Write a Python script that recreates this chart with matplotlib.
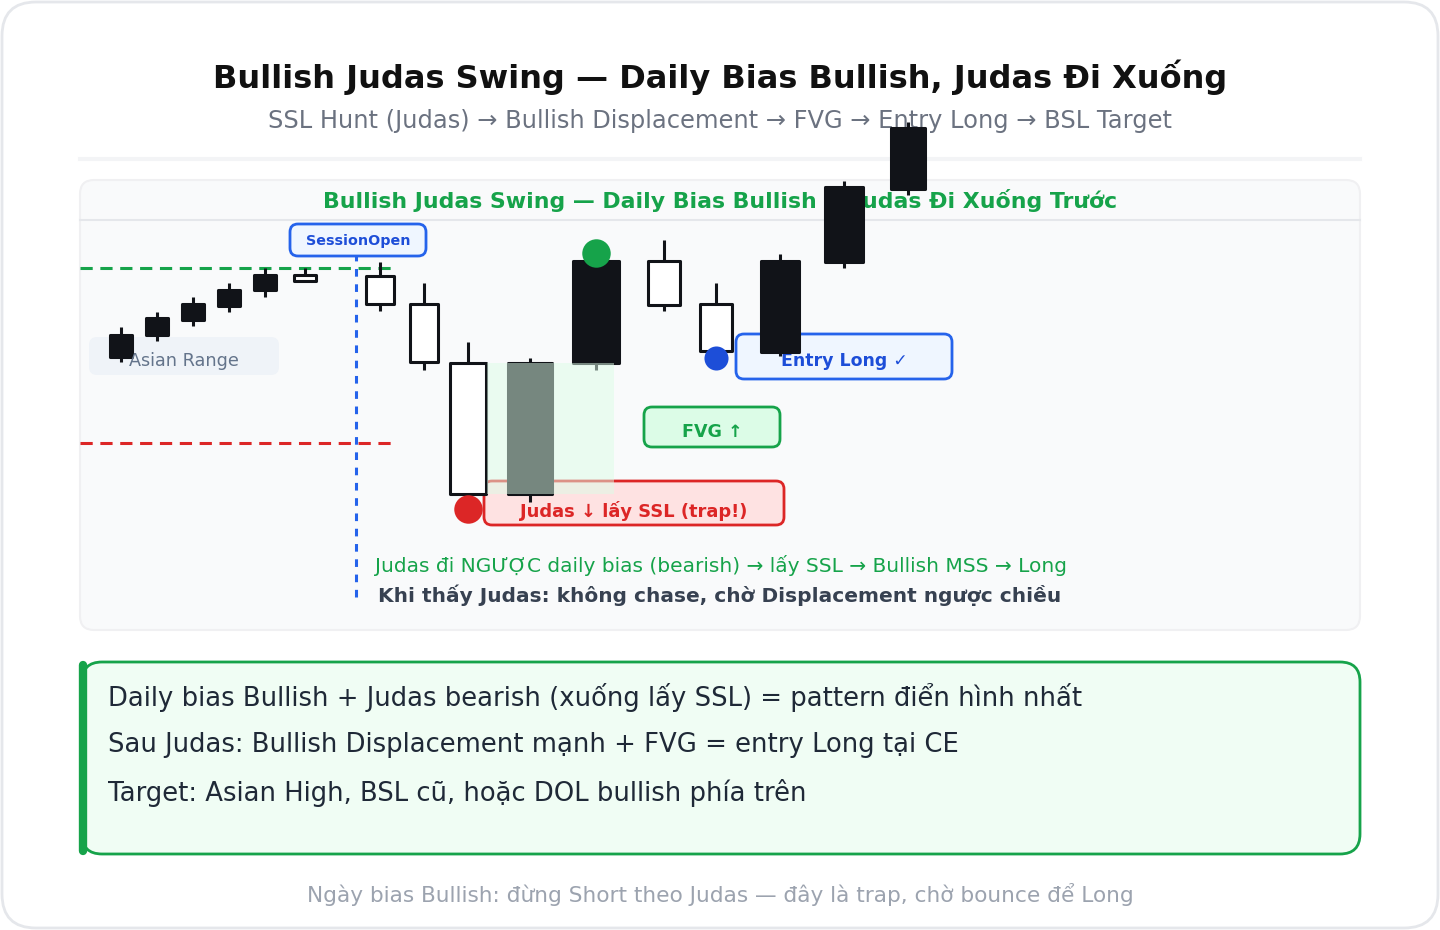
import matplotlib
matplotlib.use("Agg")
import matplotlib.pyplot as plt
from matplotlib.patches import FancyBboxPatch, Rectangle
from matplotlib.transforms import Affine2D

# ---- data (gia, don vi tuy y) ----
times = [4.1, 7.7, 11.3, 14.9, 18.5, 22.5, 30.0, 34.4, 38.8, 45.0, 51.6, 58.4, 63.6, 70.0, 76.4, 82.8]
opens = [1.0886, 1.0908, 1.0923, 1.0937, 1.0953, 1.0968, 1.0967, 1.0939,
         1.0880, 1.0749, 1.0880, 1.0982, 1.0939, 1.0891, 1.0981, 1.1054]
highs = [1.0916, 1.0931, 1.0946, 1.0960, 1.0975, 1.0975, 1.0981, 1.0960,
         1.0901, 1.0885, 1.0990, 1.1003, 1.0960, 1.0989, 1.1062, 1.1121]
lows = [1.0881, 1.0902, 1.0917, 1.0931, 1.0946, 1.0962, 1.0932, 1.0873,
        1.0749, 1.0741, 1.0873, 1.0932, 1.0892, 1.0887, 1.0975, 1.1048]
closes = [1.0908, 1.0925, 1.0939, 1.0953, 1.0968, 1.0962, 1.0939, 1.0881,
          1.0749, 1.0880, 1.0982, 1.0938, 1.0892, 1.0982, 1.1056, 1.1115]

session_open = 27.6
asian_high = 1.0975
ssl_level = 1.0800
fvg_time = [40.7, 53.4]
fvg_price = [1.0749, 1.0880]

# diem danh dau: (time, price)
judas_low = (38.8, 1.0734)
displ_high = (51.6, 1.0990)
entry_pt = (63.6, 1.0885)

# style
body_w = [2.2, 2.2, 2.2, 2.2, 2.2, 2.2, 2.8, 2.8, 3.6, 4.4, 4.6, 3.2, 3.2, 3.8, 3.8, 3.4]

GREEN = "#16a34a"
BLUE = "#2563eb"
BLUE_T = "#1d4ed8"
RED = "#dc2626"
INK = "#111318"

W, H = 1440, 930
fig = plt.figure(figsize=(W / 100, H / 100), dpi=100)
ax = fig.add_axes([0, 0, 1, 1])
ax.set_xlim(-8, 136)
ax.set_ylim(1.0313, 1.1243)
ax.axis("off")

# transform theo pixel (goc tren trai)
px = Affine2D().scale(1 / W, -1 / H).translate(0, 1) + fig.transFigure


def rbox(x, y, w, h, r, fc, ec="none", lw=0, z=1):
    p = FancyBboxPatch((x, y), w, h, boxstyle=f"round,pad=0,rounding_size={r}",
                       fc=fc, ec=ec, lw=lw, transform=px, zorder=z)
    ax.add_patch(p)


def ptext(x, y, s, **kw):
    ax.text(x, y, s, transform=px, ha=kw.pop("ha", "center"), va=kw.pop("va", "center"), **kw)


# khung ngoai
rbox(2, 2, 1436, 926, 34, "white", "#e5e7eb", 2, z=0)

ptext(720, 77, "Bullish Judas Swing — Daily Bias Bullish, Judas Đi Xuống",
      fontsize=23, fontweight="bold", color="#111111")
ptext(720, 121, "SSL Hunt (Judas) → Bullish Displacement → FVG → Entry Long → BSL Target",
      fontsize=17.4, color="#6b7280")
ax.plot([80, 1360], [159, 159], color="#f3f4f6", lw=3, transform=px, zorder=1)

# panel bieu do
rbox(80, 180, 1280, 450, 14, "#f9fafb", "#f0f0f2", 1.5, z=1)
ax.plot([80, 1360], [220, 220], color="#e5e7eb", lw=1.5, transform=px, zorder=1.5)
ptext(720, 200, "Bullish Judas Swing — Daily Bias Bullish — Judas Đi Xuống Trước",
      fontsize=15.8, fontweight="bold", color=GREEN, zorder=2)

# nhan
rbox(89, 337, 190, 38, 8, "#eff3f8", z=2)
ptext(184, 361, "Asian Range", fontsize=12.7, color="#64748b", zorder=5)
rbox(736, 334, 216, 45, 8, "#eff6ff", BLUE, 2, z=2)
ptext(844, 361, "Entry Long ✓", fontsize=12.5, fontweight="bold", color=BLUE_T, zorder=2.5)
rbox(644, 407, 136, 40, 8, "#dcfce7", GREEN, 2, z=2)
ptext(712, 432, "FVG ↑", fontsize=12.6, fontweight="bold", color=GREEN, zorder=2.5)
rbox(484, 481, 300, 44, 8, "#fee2e2", RED, 2, z=2)
ptext(634, 511, "Judas ↓ lấy SSL (trap!)", fontsize=12.9, fontweight="bold", color=RED, zorder=2.5)

ptext(721, 565, "Judas đi NGƯỢC daily bias (bearish) → lấy SSL → Bullish MSS → Long",
      fontsize=14.5, color=GREEN, zorder=2)
ptext(720, 595, "Khi thấy Judas: không chase, chờ Displacement ngược chiều",
      fontsize=14.5, fontweight="bold", color="#374151", zorder=2)

# duong muc gia
ax.plot([0, 31.6], [asian_high, asian_high], color=GREEN, lw=2.2, ls=(0, (4, 2.5)), zorder=3)
ax.plot([0, 31.6], [ssl_level, ssl_level], color=RED, lw=2.2, ls=(0, (4, 2.5)), zorder=3)
ax.plot([session_open, session_open], [1.0646, 1.1023], color=BLUE, lw=2.2,
        ls=(0, (2.5, 2.5)), zorder=3)
rbox(290, 224, 136, 32, 8, "#eff6ff", BLUE, 2, z=3.5)
ptext(358, 241, "SessionOpen", fontsize=10.3, fontweight="bold", color=BLUE_T, zorder=3.6)

# nen
for t, o, h, l, c, w in zip(times, opens, highs, lows, closes, body_w):
    ax.plot([t, t], [l, h], color=INK, lw=2.2, zorder=4, solid_capstyle="butt")
    fc = INK if c > o else "white"
    ax.add_patch(Rectangle((t - w / 2, min(o, c)), w, abs(c - o), fc=fc, ec=INK,
                           lw=2.2, joinstyle="round", zorder=4.2))

# vung FVG
ax.add_patch(Rectangle((fvg_time[0], fvg_price[0]), fvg_time[1] - fvg_time[0],
                       fvg_price[1] - fvg_price[0], fc="#dcfce7", ec="none",
                       alpha=0.5, zorder=5))

ax.scatter(*displ_high, s=420, color=GREEN, zorder=6, linewidths=0)
ax.scatter(*entry_pt, s=300, color="#1d4ed8", zorder=6, linewidths=0)
ax.scatter(*judas_low, s=420, color=RED, zorder=6, linewidths=0)

# hop ghi chu
rbox(82, 662, 1278, 192, 20, "#f0fdf4", GREEN, 2, z=1)
ax.plot([83, 83], [665, 851], color=GREEN, lw=6, solid_capstyle="round", transform=px, zorder=2)
notes = ["Daily bias Bullish + Judas bearish (xuống lấy SSL) = pattern điển hình nhất",
         "Sau Judas: Bullish Displacement mạnh + FVG = entry Long tại CE",
         "Target: Asian High, BSL cũ, hoặc DOL bullish phía trên"]
for i, s in enumerate(notes):
    ptext(108, 697 + 48 * i, s, ha="left", fontsize=18.6, color="#1f2937", zorder=2)

ptext(720, 894, "Ngày bias Bullish: đừng Short theo Judas — đây là trap, chờ bounce để Long",
      fontsize=15.6, color="#9ca3af")

fig.savefig("out.png", dpi=100)
